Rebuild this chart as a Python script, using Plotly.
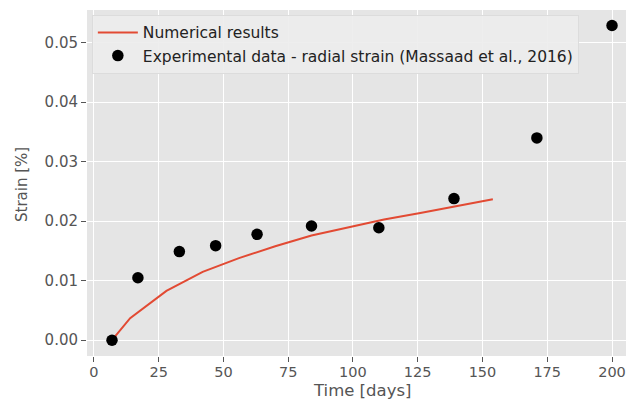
import plotly.graph_objects as go

exp_time = [7, 17, 33, 47, 63, 84, 110, 139, 171, 200]
exp_strain = [0.0, 0.0105, 0.0149, 0.0159, 0.0178, 0.0192, 0.0189, 0.0238, 0.034, 0.0529]

num_time = [7, 14, 28, 42, 56, 70, 84, 98, 112, 126, 140, 154]
num_strain = [0.0, 0.0037, 0.0083, 0.0115, 0.0138, 0.0158, 0.0176, 0.0190, 0.0203, 0.0214, 0.0226, 0.0237]

x_ticks = [0, 25, 50, 75, 100, 125, 150, 175, 200]
y_ticks = [0.0, 0.01, 0.02, 0.03, 0.04, 0.05]
y_tick_labels = ["0.00", "0.01", "0.02", "0.03", "0.04", "0.05"]

fig = go.Figure()
fig.add_trace(go.Scatter(x=num_time, y=num_strain, mode="lines",
                         line=dict(color="#E24A33", width=2),
                         name="Numerical results"))
fig.add_trace(go.Scatter(x=exp_time, y=exp_strain, mode="markers",
                         marker=dict(color="black", size=11.5),
                         name="Experimental data - radial strain (Massaad et al., 2016)"))

font = "DejaVu Sans, sans-serif"
W, H = 626, 400
L, R, T, B = 87, 0, 10, 44
fig.update_layout(
    width=W, height=H,
    margin=dict(l=L, r=R, t=T, b=B),
    paper_bgcolor="white", plot_bgcolor="#E5E5E5",
    font=dict(family=font, color="#555555", size=14),
    showlegend=True,
    legend=dict(x=0.009, y=0.986, xanchor="left", yanchor="top",
                bgcolor="rgba(236,236,236,0.9)", bordercolor="#dcdcdc", borderwidth=1,
                font=dict(family=font, size=15.5, color="#222222"),
                itemwidth=40, tracegroupgap=0),
    xaxis=dict(range=[-2.65, 205.4], tickvals=x_ticks, showgrid=True, gridcolor="white",
               gridwidth=1, zeroline=False, ticks="outside", ticklen=5, tickcolor="#555555",
               tickfont=dict(size=14.5, color="#555555"), automargin=False,
               ticklabeloverflow="allow", ticklabelstandoff=-2),
    yaxis=dict(range=[-0.00265, 0.0555], tickvals=y_ticks, ticktext=y_tick_labels,
               showgrid=True, gridcolor="white", gridwidth=1, zeroline=False,
               ticks="outside", ticklen=5, tickcolor="#555555",
               tickfont=dict(size=15, color="#555555"), automargin=False,
               ticklabeloverflow="allow"),
    annotations=[
        dict(text="Time [days]", xref="paper", yref="paper",
             x=(362 - L) / (W - L - R), y=-(390.5 - (H - B)) / (H - T - B),
             xanchor="center", yanchor="middle", showarrow=False,
             font=dict(size=16.5, color="#555555")),
        dict(text="Strain [%]", xref="paper", yref="paper",
             x=-(L - 22) / (W - L - R), y=(H - B - 185) / (H - T - B),
             xanchor="center", yanchor="middle", showarrow=False, textangle=-90,
             font=dict(size=15, color="#555555")),
    ],
)
fig.write_html("out.html", config={"displayModeBar": False},
               post_script="document.body.style.margin='0';document.body.style.overflow='hidden';")
